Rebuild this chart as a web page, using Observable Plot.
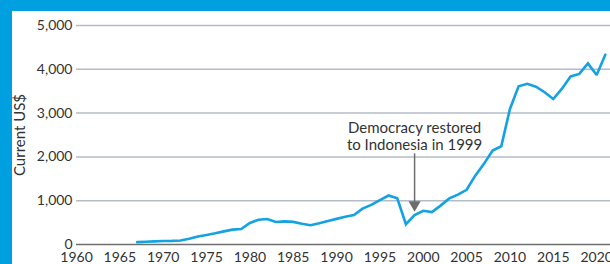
<!DOCTYPE html>
<html>
<head>
<meta charset="utf-8">
<script src="https://cdn.jsdelivr.net/npm/d3@7"></script>
<script src="https://cdn.jsdelivr.net/npm/@observablehq/plot@0.6"></script>
<style>
  html, body { margin: 0; padding: 0; }
  body { width: 610px; height: 264px; overflow: hidden; position: relative; background: #009fe0; }
  #panel { position: absolute; left: 12px; top: 11px; width: 598px; height: 253px; background: #ffffff; }
  #chart { position: absolute; left: 0; top: 0; }
</style>
</head>
<body>
<div id="panel"></div>
<div id="chart"></div>
<script>
const years = [1967,1968,1969,1970,1971,1972,1973,1974,1975,1976,1977,1978,1979,1980,1981,1982,1983,1984,1985,1986,1987,1988,1989,1990,1991,1992,1993,1994,1995,1996,1997,1998,1999,2000,2001,2002,2003,2004,2005,2006,2007,2008,2009,2010,2011,2012,2013,2014,2015,2016,2017,2018,2019,2020,2021];
const gdpPerCapita = [54,64,72,80,82,91,130,184,215,255,300,340,355,491,566,582,513,528,517,474,441,483,534,585,633,674,818,903,1011,1119,1056,464,671,770,739,888,1052,1137,1249,1572,1841,2145,2243,3094,3613,3668,3602,3476,3322,3558,3837,3894,4135,3870,4334];
const yTicks = [0,1000,2000,3000,4000,5000];
const xTicks = [1960,1965,1970,1975,1980,1985,1990,1995,2000,2005,2010,2015,2020];
const yLabel = "Current US$";
const annotationYear = 1999;
const annotationText = "Democracy restored\nto Indonesia in 1999";
const annotationTextY = 2160;
const arrowFrom = 2070;
const arrowTo = 830;

const data = years.map((year, i) => ({year, value: gdpPerCapita[i]}));
const font = "Lato, 'Open Sans', sans-serif";

const chart = Plot.plot({
  width: 610,
  height: 264,
  marginLeft: 76,
  marginRight: 0,
  marginTop: 25,
  marginBottom: 20,
  style: {background: "transparent", fontFamily: font, fontSize: "14px", color: "#333"},
  x: {domain: [1960, 2021.6], ticks: xTicks, tickFormat: d => String(d), tickSize: 0, tickPadding: 8, label: null},
  y: {domain: [0, 5000], ticks: yTicks, tickFormat: d3.format(","), tickSize: 0, tickPadding: 4, label: null},
  marks: [
    Plot.ruleY(yTicks.filter(d => d > 0), {stroke: "#b3bcc7", strokeWidth: 1.5}),
    Plot.ruleY([0], {stroke: "#6f6f6f", strokeWidth: 1.5}),
    Plot.line(data, {x: "year", y: "value", stroke: "#14a2e0", strokeWidth: 2.6, strokeLinejoin: "miter", strokeMiterlimit: 2}),
    Plot.ruleX([annotationYear], {y1: arrowFrom, y2: arrowTo + 120, stroke: "#6d6d6d", strokeWidth: 1.5}),
    Plot.dot([annotationYear], {x: d => d, y: arrowTo + 75, symbol: "triangle", rotate: 180, r: 4.5, fill: "#6d6d6d", stroke: "none"}),
    Plot.text([annotationText], {x: annotationYear, y: annotationTextY, text: d => d, textAnchor: "middle", lineAnchor: "bottom", lineHeight: 1.15, fill: "#333", fontSize: 15}),
    Plot.text([yLabel], {frameAnchor: "left", dx: -56, text: d => d, rotate: -90, textAnchor: "middle", lineAnchor: "middle", fill: "#333", fontSize: 15})
  ]
});
document.getElementById("chart").appendChild(chart);
</script>
</body>
</html>
